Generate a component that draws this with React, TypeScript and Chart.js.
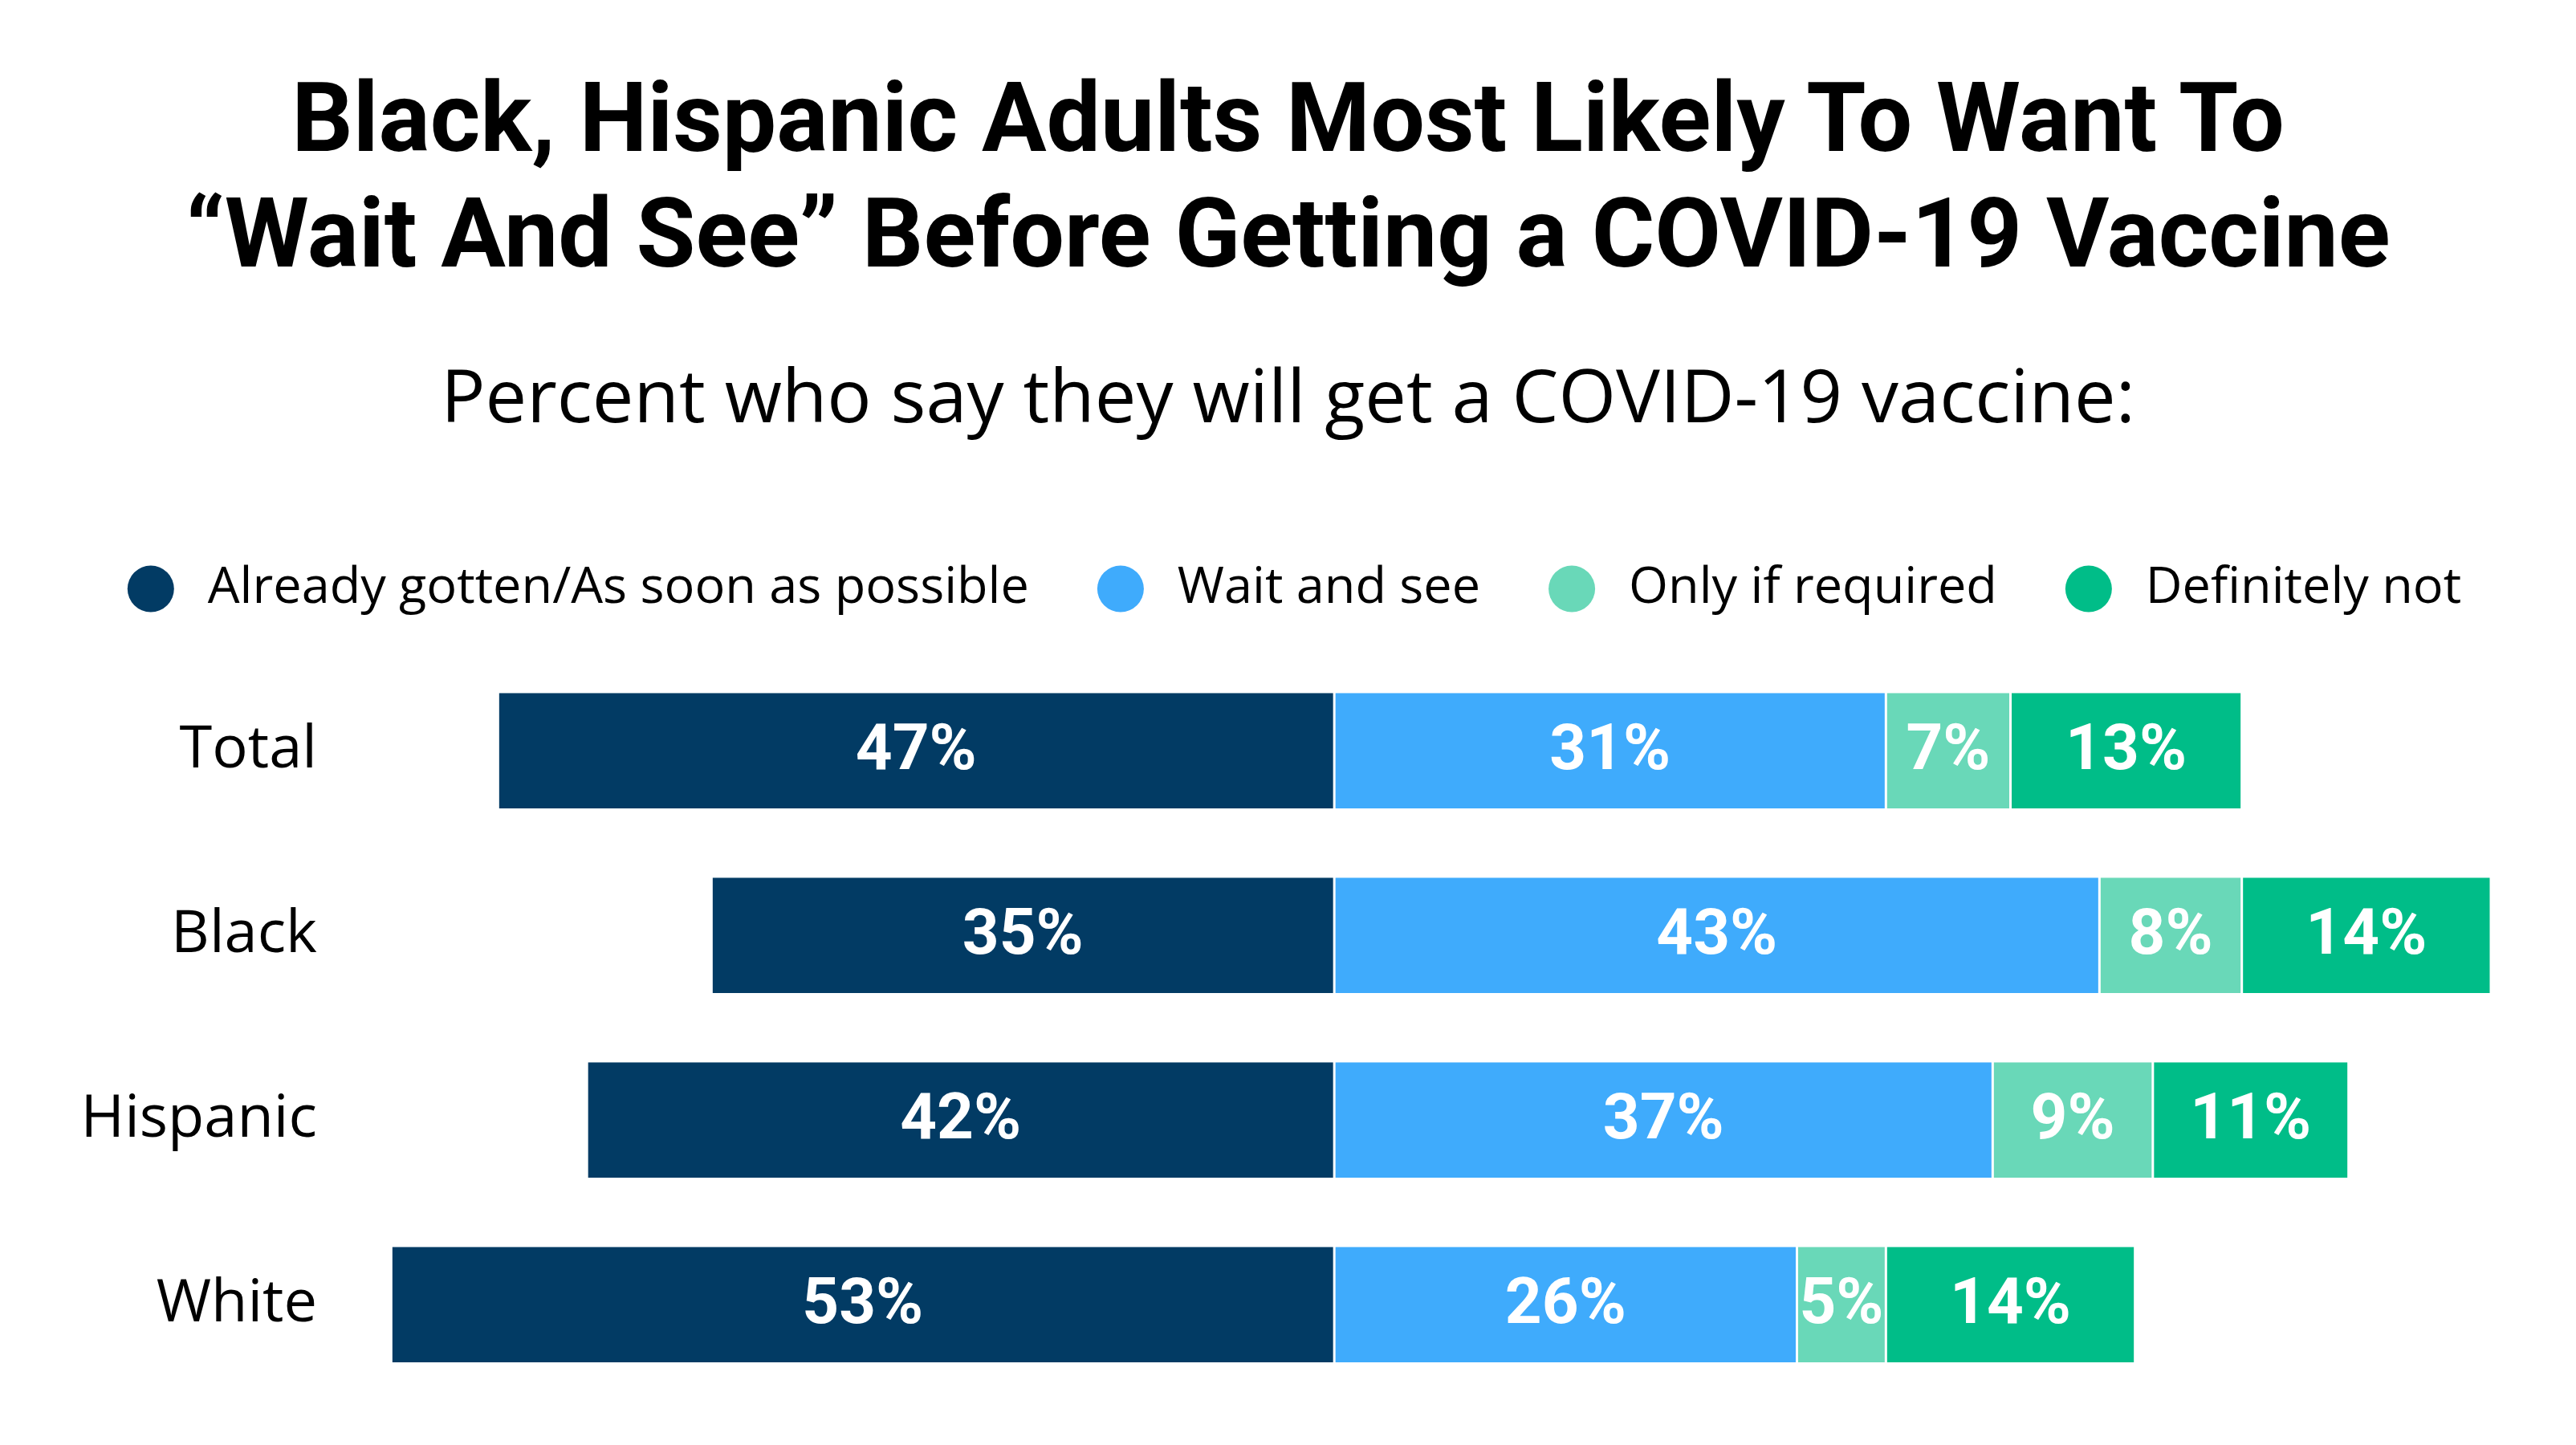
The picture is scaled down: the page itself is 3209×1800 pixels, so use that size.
import React, { useEffect, useRef } from "react";
import { Chart, registerables } from "chart.js";

Chart.register(...registerables);

const titleLines = [
  "Black, Hispanic Adults Most Likely To Want To",
  "\u201CWait And See\u201D Before Getting a COVID-19 Vaccine",
];
const subtitle = "Percent who say they will get a COVID-19 vaccine:";

const categories = ["Total", "Black", "Hispanic", "White"];
const seriesNames = [
  "Already gotten/As soon as possible",
  "Wait and see",
  "Only if required",
  "Definitely not",
];
const alreadyOrSoon = [47, 35, 42, 53];
const waitAndSee = [31, 43, 37, 26];
const onlyIfRequired = [7, 8, 9, 5];
const definitelyNot = [13, 14, 11, 14];
const seriesColors = ["#023B64", "#3FABFC", "#69D8B8", "#00BD88"];

const axisMin = -55;
const axisMax = 65;

const valueLabels = {
  id: "valueLabels",
  afterDatasetsDraw(chart: any) {
    const ctx = chart.ctx;
    ctx.save();
    ctx.fillStyle = "#ffffff";
    ctx.font = "bold 80px Roboto";
    ctx.textAlign = "center";
    ctx.textBaseline = "middle";
    chart.data.datasets.forEach((ds: any, i: number) => {
      const meta = chart.getDatasetMeta(i);
      meta.data.forEach((bar: any, j: number) => {
        const { x, base, y } = bar.getProps(["x", "base", "y"], true);
        const v = Math.abs(ds.data[j]);
        ctx.fillText(v + "%", (x + base) / 2, y + 3);
      });
    });
    ctx.restore();
  },
};

export default function App() {
  const canvasRef = useRef<HTMLCanvasElement | null>(null);

  useEffect(() => {
    if (!canvasRef.current) return;
    const values = [
      alreadyOrSoon.map((v) => -v),
      waitAndSee,
      onlyIfRequired,
      definitelyNot,
    ];
    const chart = new Chart(canvasRef.current, {
      type: "bar",
      data: {
        labels: categories,
        datasets: seriesNames.map((name, i) => ({
          label: name,
          data: values[i],
          backgroundColor: seriesColors[i],
          borderColor: "#ffffff",
          borderWidth: { left: 1.5, right: 1.5, top: 0, bottom: 0 },
          borderSkipped: false,
          categoryPercentage: 1,
          barPercentage: 0.625,
        })),
      },
      options: {
        indexAxis: "y",
        animation: false,
        responsive: false,
        devicePixelRatio: 1,
        layout: { padding: { top: 49, right: 0, bottom: 52, left: 16 } },
        scales: {
          x: {
            stacked: true,
            min: axisMin,
            max: axisMax,
            position: "top",
            grid: { display: false, drawTicks: false },
            border: { display: false },
            ticks: { display: false },
            afterFit: (scale: any) => {
              scale.height = 45;
            },
          },
          y: {
            stacked: true,
            grid: { display: false, drawTicks: false },
            border: { display: false },
            ticks: {
              color: "#000000",
              padding: 48,
              font: { family: "Open Sans", size: 74 },
            },
            afterFit: (scale: any) => {
              scale.width = 419;
              scale.paddingTop = 0;
              scale.paddingBottom = 0;
            },
          },
          yRight: {
            type: "category",
            position: "right",
            grid: { display: false, drawTicks: false },
            border: { display: false },
            ticks: { display: false },
            afterFit: (scale: any) => {
              scale.width = 98;
              scale.paddingTop = 0;
              scale.paddingBottom = 0;
            },
          },
        },
        plugins: {
          legend: {
            position: "top",
            labels: {
              usePointStyle: true,
              pointStyle: "circle",
              boxHeight: 41,
              pointStyleWidth: 58,
              padding: 85,
              color: "#000000",
              font: { family: "Open Sans", size: 63 },
              generateLabels: (chart: any) =>
                Chart.defaults.plugins.legend.labels
                  .generateLabels(chart)
                  .map((item: any) => ({ ...item, text: "\u2009" + item.text, lineWidth: 0 })),
            },
          },
          tooltip: { enabled: false },
        },
      },
      plugins: [valueLabels],
    });
    return () => chart.destroy();
  }, []);

  return (
    <div style={{ position: "relative", width: 3193, height: 1784, background: "#ffffff" }}>
      <div
        style={{
          position: "absolute",
          top: 67,
          left: 0,
          width: 3193,
          textAlign: "center",
          fontFamily: "Roboto",
          fontWeight: 700,
          fontSize: 120,
          lineHeight: "144px",
          color: "#000000",
        }}
      >
        {titleLines.map((t, i) => (
          <div key={i}>{t}</div>
        ))}
      </div>
      <div
        style={{
          position: "absolute",
          top: 433,
          left: 0,
          width: 3193,
          textAlign: "center",
          fontFamily: "Open Sans",
          fontSize: 92,
          lineHeight: "100px",
          color: "#000000",
        }}
      >
        {subtitle}
      </div>
      <canvas
        ref={canvasRef}
        width={3193}
        height={1224}
        style={{ position: "absolute", top: 560, left: 0, width: 3193, height: 1224 }}
      />
    </div>
  );
}
